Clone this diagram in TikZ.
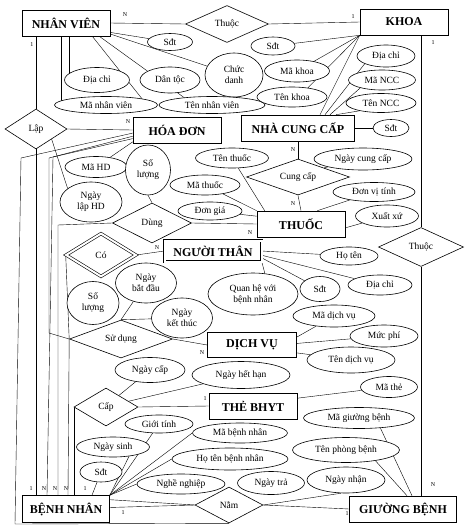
\documentclass[tikz,border=0pt]{standalone}
\usepackage{fontspec}
\setmainfont{Liberation Serif}
\usetikzlibrary{shapes.geometric,backgrounds,calc}

\begin{document}
\begin{tikzpicture}[x=1pt,y=-1pt, line width=0.6pt,
	ent/.style={draw, fill=white, font=\bfseries\fontsize{12}{13}\selectfont, inner sep=1pt},
	attr/.style={ellipse, draw, fill=white, font=\fontsize{9.5}{11}\selectfont, inner sep=0pt, align=center},
	rel/.style={diamond, draw, fill=white, aspect=2, inner sep=0pt, font=\fontsize{9.5}{11}\selectfont},
	lbl/.style={font=\fontsize{6}{6}\selectfont, inner sep=0pt}]
\useasboundingbox (0,0) rectangle (468,531);

\node [ent, minimum width=88pt, minimum height=26pt] (nv) at (66,23) {NHÂN VIÊN};
\node [ent, minimum width=88pt, minimum height=26pt] (khoa) at (404,22) {KHOA};
\node [ent, minimum width=88pt, minimum height=26pt] (hd) at (177,130) {HÓA ĐƠN};
\node [ent, minimum width=113pt, minimum height=26pt] (ncc) at (298,128) {NHÀ CUNG CẤP};
\node [ent, minimum width=88pt, minimum height=26pt] (thuoc) at (301,224) {THUỐC};
\node [ent, double=white, double distance=2pt, minimum width=97pt, minimum height=21pt] (nt) at (213,251) {NGƯỜI THÂN};
\node [ent, minimum width=89pt, minimum height=25pt] (dv) at (252,345) {DỊCH VỤ};
\node [ent, minimum width=88pt, minimum height=26pt] (bhyt) at (253,406) {THẺ BHYT};
\node [ent, minimum width=87pt, minimum height=27pt] (bn) at (66,509) {BỆNH NHÂN};
\node [ent, minimum width=107pt, minimum height=26pt] (gb) at (403,509) {GIƯỜNG BỆNH};

\node [rel, minimum width=83pt, minimum height=37pt] (thuocA) at (227,24) {Thuộc};
\node [rel, minimum width=62pt, minimum height=40pt] (lap) at (36,129) {Lập};
\node [rel, minimum width=79pt, minimum height=40pt] (dung) at (152,223) {Dùng};
\node [rel, double=white, double distance=2pt, minimum width=70pt, minimum height=43pt] (co) at (101,255) {Có};
\node [rel, minimum width=103pt, minimum height=38pt] (sudung) at (121,339) {Sử dụng};
\node [rel, minimum width=103pt, minimum height=36pt] (cungcap) at (298,177) {Cung cấp};
\node [rel, minimum width=85pt, minimum height=39pt] (thuocB) at (421,247) {Thuộc};
\node [rel, minimum width=64pt, minimum height=38pt] (cap) at (106,407) {Cấp};
\node [rel, minimum width=68pt, minimum height=36pt] (nam) at (229,505) {Nằm};

\node [attr, minimum width=45pt, minimum height=17pt] (nvSdt) at (170,42) {Sđt};
\node [attr, minimum width=65pt, minimum height=25pt] (nvDiachi) at (97,80) {Địa chỉ};
\node [attr, minimum width=60pt, minimum height=26pt] (nvDantoc) at (170,80) {Dân tộc};
\node [attr, minimum width=58pt, minimum height=44pt] (nvChucdanh) at (234,75) {Chức\\danh};
\node [attr, minimum width=103pt, minimum height=17pt] (nvMa) at (106,105) {Mã nhân viên};
\node [attr, minimum width=106pt, minimum height=17pt] (nvTen) at (212,105) {Tên nhân viên};

\node [attr, minimum width=44pt, minimum height=18pt] (khSdt) at (273,46) {Sđt};
\node [attr, minimum width=65pt, minimum height=22pt] (khMa) at (297,71) {Mã khoa};
\node [attr, minimum width=70pt, minimum height=20pt] (khTen) at (292,97) {Tên khoa};

\node [attr, minimum width=58pt, minimum height=22pt] (nccDiachi) at (386,56) {Địa chỉ};
\node [attr, minimum width=67pt, minimum height=20pt] (nccMa) at (382,80) {Mã NCC};
\node [attr, minimum width=70pt, minimum height=19pt] (nccTen) at (381,103) {Tên NCC};
\node [attr, minimum width=36pt, minimum height=17pt] (nccSdt) at (391,128) {Sđt};

\node [attr, minimum width=62pt, minimum height=21pt] (hdMa) at (96,167) {Mã HD};
\node [attr, minimum width=62pt, minimum height=40pt] (hdNgay) at (91,202) {Ngày\\lập HD};
\node [attr, minimum width=45pt, minimum height=50pt] (dgSoluong) at (148,170) {Số\\lượng};

\node [attr, minimum width=73pt, minimum height=20pt] (thTen) at (232,158) {Tên thuốc};
\node [attr, minimum width=70pt, minimum height=20pt] (thMa) at (205,185) {Mã thuốc};
\node [attr, minimum width=64pt, minimum height=18pt] (thGia) at (210,211) {Đơn giá};
\node [attr, minimum width=98pt, minimum height=22pt] (ccNgay) at (363,159) {Ngày cung cấp};
\node [attr, minimum width=82pt, minimum height=19pt] (thDvt) at (374,192) {Đơn vị tính};
\node [attr, minimum width=63pt, minimum height=22pt] (thXuatxu) at (387,216) {Xuất xứ};

\node [attr, minimum width=58pt, minimum height=18pt] (ntTen) at (349,256) {Họ tên};
\node [attr, minimum width=64pt, minimum height=20pt] (ntDiachi) at (380,285) {Địa chỉ};
\node [attr, minimum width=40pt, minimum height=25pt] (ntSdt) at (320,289) {Sđt};
\node [attr, minimum width=90pt, minimum height=42pt] (ntQuanhe) at (253,294) {Quan hệ với\\bệnh nhân};

\node [attr, minimum width=52pt, minimum height=43pt] (sdSoluong) at (93,303) {Số\\lượng};
\node [attr, minimum width=61pt, minimum height=40pt] (sdBatdau) at (146,283) {Ngày\\bắt đầu};
\node [attr, minimum width=61pt, minimum height=40pt] (sdKetthuc) at (182,318) {Ngày\\kết thúc};

\node [attr, minimum width=82pt, minimum height=22pt] (dvMa) at (334,316) {Mã dịch vụ};
\node [attr, minimum width=68pt, minimum height=22pt] (dvPhi) at (384,336) {Mức phí};
\node [attr, minimum width=88pt, minimum height=26pt] (dvTen) at (351,360) {Tên dịch vụ};

\node [attr, minimum width=70pt, minimum height=25pt] (capNgay) at (150,370) {Ngày cấp};
\node [attr, minimum width=98pt, minimum height=27pt] (capHethan) at (241,375) {Ngày hết hạn};
\node [attr, minimum width=57pt, minimum height=21pt] (bhMa) at (389,387) {Mã thẻ};

\node [attr, minimum width=111pt, minimum height=21pt] (gbMa) at (359,418) {Mã giường bệnh};
\node [attr, minimum width=107pt, minimum height=25pt] (gbPhong) at (346,450) {Tên phòng bệnh};
\node [attr, minimum width=78pt, minimum height=26pt] (namNhan) at (346,480) {Ngày nhận};
\node [attr, minimum width=67pt, minimum height=23pt] (namTra) at (271,483) {Ngày trả};

\node [attr, minimum width=95pt, minimum height=20pt] (bnMa) at (240,433) {Mã bệnh nhân};
\node [attr, minimum width=116pt, minimum height=22pt] (bnTen) at (230,459) {Họ tên bệnh nhân};
\node [attr, minimum width=88pt, minimum height=20pt] (bnNghe) at (181,484) {Nghề nghiệp};
\node [attr, minimum width=68pt, minimum height=18pt] (bnGioi) at (159,424) {Giới tính};
\node [attr, minimum width=73pt, minimum height=20pt] (bnSinh) at (113,447) {Ngày sinh};
\node [attr, minimum width=42pt, minimum height=20pt] (bnSdt) at (101,472) {Sđt};

\node [lbl] (l1) at (125,15) {N};
\node [lbl] (l2) at (353,17) {1};
\node [lbl] (l3) at (32,45) {1};
\node [lbl] (l4) at (128,122) {N};
\node [lbl] (l5) at (31,489) {1};
\node [lbl] (l6) at (44,489) {N};
\node [lbl] (l7) at (55,489) {N};
\node [lbl] (l8) at (66,489) {N};
\node [lbl] (l9) at (85,489) {1};
\node [lbl] (l10) at (293,150) {N};
\node [lbl] (l11) at (293,204) {N};
\node [lbl] (l12) at (250,233) {N};
\node [lbl] (l13) at (157,248) {N};
\node [lbl] (l14) at (202,353) {N};
\node [lbl] (l15) at (205,399) {1};
\node [lbl] (l16) at (433,43) {1};
\node [lbl] (l17) at (433,485) {N};
\node [lbl] (l18) at (123,513) {1};
\node [lbl] (l19) at (347,514) {1};

\coordinate (frA) at (21,158);
\coordinate (frB) at (15,524);
\coordinate (sdA) at (49,158);
\coordinate (sdB) at (49,333);
\coordinate (hnA) at (53,157);
\coordinate (dnA) at (58,225);

\begin{scope}[on background layer]
\draw (nv.east) -- (thuocA.west);
\draw (thuocA.east) -- (khoa.west);
\draw (nv.-12) -- (nvSdt);
\draw (nv.-14) -- (nvChucdanh);
\draw ([xshift=-18pt]nv.south east) -- (nvMa.10);
\draw ([xshift=-11pt]nv.south east) -- (nvTen.165);
\draw ([xshift=-5pt]nv.south) -- ([xshift=-5pt]nv.south |- nvMa);
\draw ([xshift=3pt]nv.south) -- ([xshift=3pt]nv.south |- nvDiachi);
\draw (lap.north) -- (lap.north |- nv.south);
\draw (lap.east) -- (hd.west);
\draw ($(lap.east)!0.5!(lap.south)$) -- (hdNgay.150);
\draw (lap.south) -- (lap.south |- bn.north);
\draw (hd.184) -- (frA) -- (frB) -- (nam.south);
\draw (hd.188) -- (sdA) -- (sdB) -- (sudung.west);
\draw (hd.191) -- (hnA) -- ([xshift=-19pt]bn.north);
\draw (hd.195) -- (hdMa);
\draw (dung.west) -- (dnA) -- ([xshift=-8pt]bn.north);
\draw (dgSoluong.south) -- (dung.north);
\draw (dung.east) -- (thuoc.west);
\draw (co.west) -- (sudung.west) -- ([xshift=2pt]bn.north);
\draw (co.east) -- (nt.west);
\draw (nt.east) -- (ntTen);
\draw (nt.-5) -- (ntDiachi);
\draw (nt.-8) -- (ntSdt);
\draw (nt.south east) -- (ntQuanhe.60);
\draw (sudung.east) -- (dv.west);
\draw (sudung.north) -- (sdBatdau);
\draw (sudung.north) -- (sdKetthuc);
\draw (dv.10) -- (dvMa);
\draw (dv.2) -- (dvPhi);
\draw (dv.-10) -- (dvTen);
\draw (cap.west) -- (cap.west |- bn.north);
\draw (cap.east) -- (bhyt.west);
\draw ($(cap.north)!0.4!(cap.east)$) -- (capNgay);
\draw ($(cap.north)!0.7!(cap.east)$) -- (capHethan);
\draw (bhyt.10) -- (bhMa);
\draw (gbMa.-25) -- ([xshift=9pt]gb.north);
\draw (gbPhong.-20) -- ([xshift=4pt]gb.north);
\draw (thuocB.north) -- (thuocB.north |- khoa.south);
\draw (thuocB.south) -- (thuocB.south |- gb.north);
\draw (bn.12) -- (nam.west);
\draw (bn.2) -- (nam.west);
\draw (nam.east) -- (gb.west);
\draw (nam.east) -- (namNhan.250);
\draw ([xshift=26pt]bn.north) -- (bnSdt);
\draw (bn.north east) -- (bnSinh.-30);
\draw (bn.north east) -- (bnGioi);
\draw (bn.north east) -- (bnMa.west);
\draw (bn.north east) -- (bnTen.west);
\draw (bn.north east) -- (bnNghe.west);
\draw (ncc.south) -- (cungcap.north);
\draw (nccDiachi.200) -- ([xshift=27pt]ncc.north);
\draw (nccMa.200) -- ([xshift=32pt]ncc.north);
\draw (nccTen.200) -- ([xshift=38pt]ncc.north);
\draw (ncc.east) -- (nccSdt);
\draw (khoa.south west) -- (khSdt);
\draw (khoa.south west) -- (khMa);
\draw (khoa.south west) -- (khTen.30);
\draw (khoa.south west) -- ([xshift=22pt]ncc.north);
\draw (cungcap.south) -- (thuoc.north);
\draw ($(cungcap.north)!0.5!(cungcap.east)$) -- (ccNgay);
\draw ([xshift=8pt]thuoc.north west) -- (thTen);
\draw (thuoc.north west) -- (thMa);
\draw (thuoc.170) -- (thGia);
\draw ([xshift=-28pt]thuoc.north east) -- (thDvt);
\draw (thuoc.-5) -- (thXuatxu);
\end{scope}
\end{tikzpicture}
\end{document}
